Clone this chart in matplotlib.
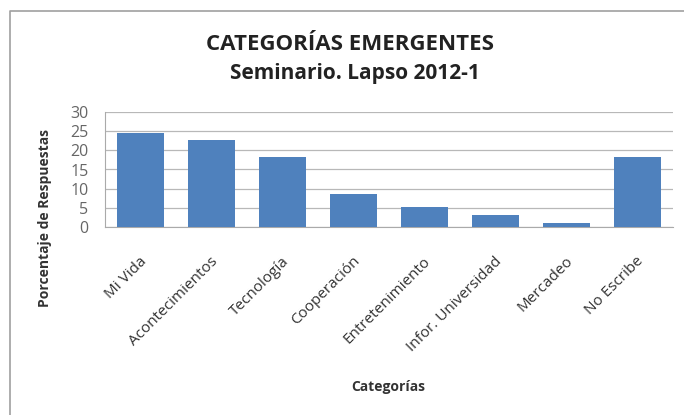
import matplotlib
matplotlib.use("Agg")
import matplotlib.pyplot as plt
from matplotlib.lines import Line2D
from matplotlib.transforms import ScaledTranslation

categories = ["Mi Vida", "Acontecimientos", "Tecnología", "Cooperación",
              "Entretenimiento", "Infor. Universidad", "Mercadeo", "No Escribe"]
values = [24.6, 22.6, 18.3, 8.6, 5.1, 3.1, 1.0, 18.3]
yticks = [0, 5, 10, 15, 20, 25, 30]

plt.rcParams['font.family'] = ['Open Sans', 'DejaVu Sans']

W, H = 684, 415
fig = plt.figure(figsize=(W / 100, H / 100), dpi=100)
# outer chart frame (only left and top edges visible)
fig.lines.append(Line2D([9.5 / W, 9.5 / W, 1.0], [0.0, 1 - 11 / H, 1 - 11 / H],
                        transform=fig.transFigure, color='#a0a0a0', linewidth=1.2))
ax = fig.add_axes([105 / W, (H - 227) / H, 568 / W, 115 / H])
x = list(range(len(categories)))
ax.bar(x, values, width=0.65, color='#4F81BD', zorder=3)
ax.set_xlim(-0.5, len(categories) - 0.5)
ax.set_ylim(0, 30)
ax.set_yticks(yticks)
ax.yaxis.grid(True, color='#b8b8b8', linewidth=0.9, zorder=0)
ax.set_xticks(x)
ax.set_xticklabels([])
offset = ScaledTranslation(4 / 100, -32 / 100, fig.dpi_scale_trans)
for xi, cat in zip(x, categories):
    ax.text(xi, 0, cat, transform=ax.get_xaxis_transform() + offset,
            rotation=45, ha='right', va='center', rotation_mode='anchor',
            fontsize=11, color='#333333')
ax.tick_params(axis='y', labelsize=11.5, colors='#666666', length=0, pad=12)
ax.tick_params(axis='x', length=0, pad=4)
for s in ['top', 'right']:
    ax.spines[s].set_visible(False)
ax.spines['left'].set_color('#aaaaaa')
ax.spines['bottom'].set_color('#aaaaaa')
fig.text(45 / W, 1 - 218 / H, "Porcentaje de Respuestas", rotation=90, ha='center', va='center',
         fontsize=10, fontweight='bold', color='#333333')
fig.text(388 / W, 1 - 387 / H, "Categorías", ha='center', va='center',
         fontsize=10, fontweight='bold', color='#333333')
fig.text(350 / W, 1 - 45 / H, "CATEGORÍAS EMERGENTES", ha='center', va='center',
         fontsize=16, fontweight='bold', color='#222222')
fig.text(355 / W, 1 - 74 / H, "Seminario. Lapso 2012-1", ha='center', va='center',
         fontsize=15, fontweight='bold', color='#222222')
fig.savefig("out.png", dpi=100)
